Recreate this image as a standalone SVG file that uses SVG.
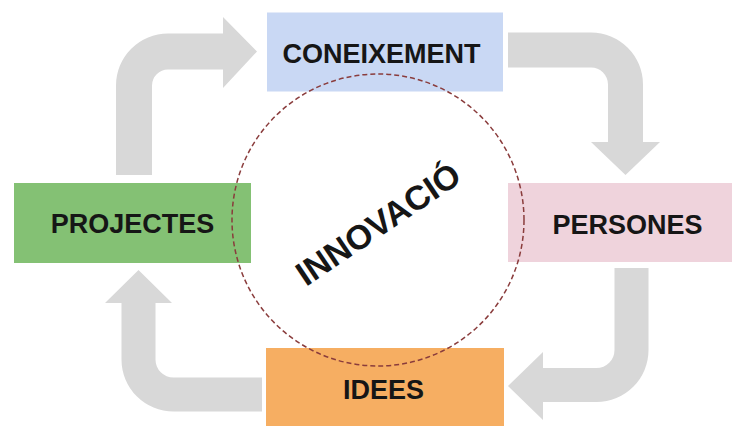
<svg xmlns="http://www.w3.org/2000/svg" width="732" height="426" viewBox="0 0 732 426">
<style>
.arrow{fill:#d8d8d8;stroke:none}
.lbl{font-family:"Liberation Sans",Arial,sans-serif;font-weight:bold;font-size:27px;fill:#161616;text-anchor:middle}
.ring{fill:none;stroke:#8a3c3c;stroke-width:1.5;stroke-dasharray:5 3}
</style>
<rect width="732" height="426" fill="#ffffff"/>
<g id="connectors">
<path class="arrow" d="M116,175 L116,85.5 A52,52 0 0 1 168,33.5 L223,33.5 L223,17 L257,51.5 L223,88 L223,69.5 L168,69.5 A16,16 0 0 0 152,85.5 L152,175 Z"/>
<path class="arrow" d="M508,32.5 L591,32.5 A52,52 0 0 1 643,84.5 L643,142 L660,142 L625.5,175 L591,142 L608,142 L608,84.5 A17,17 0 0 0 591,67.5 L508,67.5 Z"/>
<path class="arrow" d="M614.5,268 L648.5,268 L648.5,350 A52,52 0 0 1 596.5,402 L543,402 L543,420 L508,386 L543,352 L543,368 L596.5,368 A18,18 0 0 0 614.5,350 Z"/>
<path class="arrow" d="M262,377.5 L262,411.5 L173.5,411.5 A52,52 0 0 1 121.5,359.5 L121.5,303 L105,303 L138.5,270 L172,303 L155.5,303 L155.5,359.5 A18,18 0 0 0 173.5,377.5 Z"/>
</g>
<g id="node-coneixement">
<rect x="267" y="12.5" width="236" height="79" fill="#c9d8f4"/>
</g>
<g id="node-persones">
<rect x="508" y="183" width="224" height="79" fill="#efd3dc"/>
</g>
<g id="node-projectes">
<rect x="14" y="183" width="237" height="80" fill="#84c174"/>
</g>
<g id="node-idees">
<rect x="266" y="348" width="238" height="78" fill="#f6ae62"/>
</g>
<g id="node-innovacio">
<circle class="ring" cx="378" cy="220" r="146"/>
<text class="lbl" style="font-size:34px" transform="translate(378,224) rotate(-34)" x="0" y="12">INNOVACIÓ</text>
</g>
<g id="labels">
<text class="lbl" x="381.5" y="62.5">CONEIXEMENT</text>
<text class="lbl" x="627.5" y="233.5">PERSONES</text>
<text class="lbl" x="132.5" y="233">PROJECTES</text>
<text class="lbl" x="383.5" y="399">IDEES</text>
</g>
</svg>
